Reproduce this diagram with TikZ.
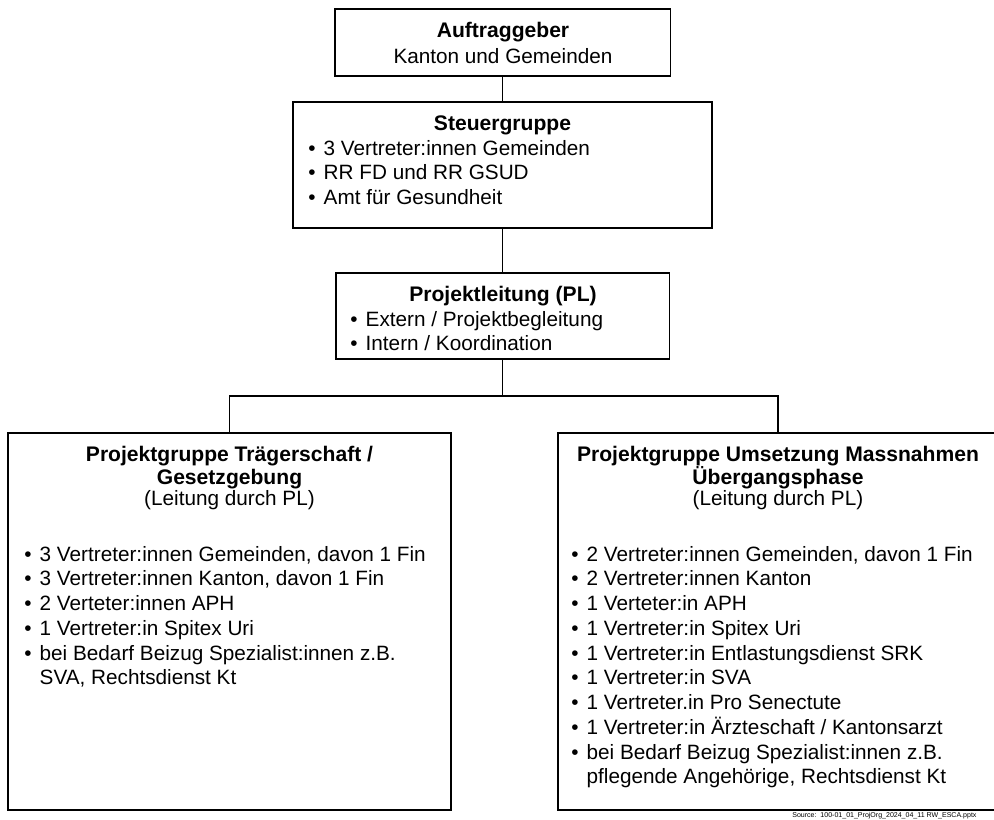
\documentclass[tikz,border=0pt]{standalone}
\usepackage{fontspec}
\setmainfont{Liberation Sans}

\tikzset{
  box/.style={draw,line width=1.1pt,inner sep=0pt},
  link/.style={draw,line width=0.8pt},
  title/.style={anchor=base,font=\fontsize{12}{14}\selectfont\bfseries,inner sep=0pt},
  sub/.style={anchor=base,font=\fontsize{11.8}{14}\selectfont,inner sep=0pt},
  items/.style={anchor=base west,inner sep=0pt,font=\fontsize{11.8}{14.1}\selectfont},
}
\newcommand{\itemrows}[1]{\begin{tabular}[t]{@{}l@{\hspace{4.6pt}}l@{}}#1\end{tabular}}

\begin{document}
\begin{tikzpicture}[x=0.02cm,y=-0.02cm]
\clip (0,0) rectangle (994,819);
% boxes
\node[box,minimum width=6.72cm,minimum height=1.34cm] (auf) at (502.5,42.5) {};
\node[box,minimum width=8.38cm,minimum height=2.52cm] (steu) at (502.5,165) {};
\node[box,minimum width=6.68cm,minimum height=1.72cm] (pl) at (502.5,316) {};
\node[box,minimum width=8.86cm,minimum height=7.54cm] (ptg) at (229.5,621.5) {};
\node[box,minimum width=8.8cm,minimum height=7.54cm] (pum) at (778,621.5) {};

% connectors
\coordinate (split) at (502.5,396);
\draw[link] (auf.south) -- (steu.north);
\draw[link] (steu.south) -- (pl.north);
\draw[link] (pl.south) -- (split);
\draw[link] (ptg.north) |- (split) -| (pum.north);

% Auftraggeber
\node[title] (aufT) at (503,37) {Auftraggeber};
\node[sub] (aufS) at (503,63) {Kanton und Gemeinden};

% Steuergruppe
\node[title] (steuT) at (502.5,130) {Steuergruppe};
\node[items] (steuL) at (308,155) {\itemrows{
  \textbullet & 3 Vertreter:innen Gemeinden\\
  \textbullet & RR FD und RR GSUD\\
  \textbullet & Amt für Gesundheit}};

% Projektleitung
\node[title] (plT) at (503,301) {Projektleitung (PL)};
\node[items] (plL) at (350,326) {\itemrows{
  \textbullet & Extern / Projektbegleitung\\
  \textbullet & Intern / Koordination}};

% Projektgruppe Traegerschaft
\node[title] (ptgT1) at (229.5,461) {Projektgruppe Trägerschaft /};
\node[title] (ptgT2) at (229.5,484) {Gesetzgebung};
\node[sub] (ptgS) at (229.5,505) {(Leitung durch PL)};
\node[items] (ptgL) at (24,561) {\itemrows{
  \textbullet & 3 Vertreter:innen Gemeinden, davon 1 Fin\\
  \textbullet & 3 Vertreter:innen Kanton, davon 1 Fin\\
  \textbullet & 2 Verteter:innen APH\\
  \textbullet & 1 Vertreter:in Spitex Uri\\
  \textbullet & bei Bedarf Beizug Spezialist:innen z.B.\\
  & SVA, Rechtsdienst Kt}};

% Projektgruppe Umsetzung
\node[title] (pumT1) at (778,461) {Projektgruppe Umsetzung Massnahmen};
\node[title] (pumT2) at (778,484) {Übergangsphase};
\node[sub] (pumS) at (778,505) {(Leitung durch PL)};
\node[items] (pumL) at (571,561) {\itemrows{
  \textbullet & 2 Vertreter:innen Gemeinden, davon 1 Fin\\
  \textbullet & 2 Vertreter:innen Kanton\\
  \textbullet & 1 Verteter:in APH\\
  \textbullet & 1 Vertreter:in Spitex Uri\\
  \textbullet & 1 Vertreter:in Entlastungsdienst SRK\\
  \textbullet & 1 Vertreter:in SVA\\
  \textbullet & 1 Vertreter.in Pro Senectute\\
  \textbullet & 1 Vertreter:in Ärzteschaft / Kantonsarzt\\
  \textbullet & bei Bedarf Beizug Spezialist:innen z.B.\\
  & pflegende Angehörige, Rechtsdienst Kt}};

% Quelle
\node[anchor=base west,inner sep=0pt,font=\fontsize{4}{5}\selectfont] (src) at (792,817) {Source:\ \ 100-01\_01\_ProjOrg\_2024\_04\_11 RW\_ESCA.pptx};
\end{tikzpicture}
\end{document}
